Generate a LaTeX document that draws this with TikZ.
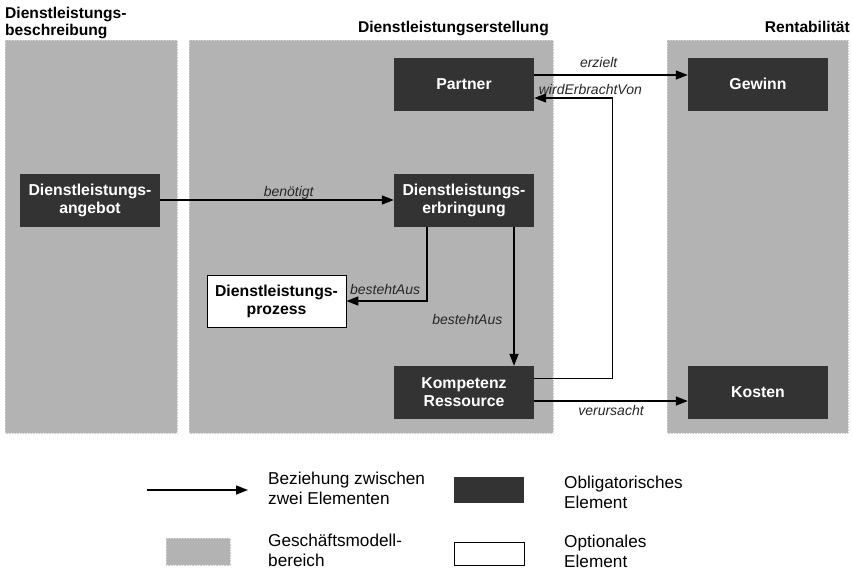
\documentclass[tikz,border=0pt]{standalone}
\usepackage{fontspec}
\setmainfont{Liberation Sans}
\usetikzlibrary{arrows.meta}
\definecolor{area}{HTML}{B3B3B3}
\definecolor{areaedge}{HTML}{CFCFCF}
\definecolor{mandatory}{HTML}{333333}
\begin{document}
\begin{tikzpicture}[x=1pt,y=-1pt,
  region/.style={fill=area,draw=areaedge,densely dotted,line width=0.6pt},
  oblig/.style={fill=mandatory,draw=none,text=white,align=center,
    minimum width=140pt,minimum height=53pt,inner sep=0pt,
    font=\fontsize{15.8}{18}\selectfont\bfseries},
  optional/.style={fill=white,draw=black,line width=0.8pt,text=black,align=center,
    minimum width=139pt,minimum height=52pt,inner sep=0pt,
    font=\fontsize{15.8}{18}\selectfont\bfseries},
  rel/.style={line width=1.4pt,-{Triangle[length=12pt,width=9pt]}},
  lbl/.style={font=\fontsize{14}{16}\selectfont\itshape,text=black!85,inner sep=0pt,anchor=base},
  header/.style={font=\fontsize{15.6}{17}\selectfont\bfseries,inner sep=0pt,align=left},
  legtext/.style={font=\fontsize{17.2}{19.5}\selectfont,inner sep=0pt,align=left,anchor=base west}]
\useasboundingbox (0,0) rectangle (853,570);

% business model areas
\path[region] (5,40) rectangle (177,433);
\path[region] (189,40) rectangle (553,433);
\path[region] (667,40) rectangle (848,433);

% area titles (base anchor sits on the last line)
\node[header,anchor=base west] (hbeschr) at (5,35) {Dienstleistungs-\\beschreibung};
\node[header,anchor=base east] (herst) at (549,32) {Dienstleistungserstellung};
\node[header,anchor=base east] (hrent) at (850,32) {Rentabilität};

% elements
\node[oblig] (partner) at (464,84) {Partner};
\node[oblig] (gewinn) at (758,84) {Gewinn};
\node[oblig] (angebot) at (90,200) {Dienstleistungs-\\angebot};
\node[oblig] (erbr) at (464,200) {Dienstleistungs-\\erbringung};
\node[optional] (prozess) at (276.5,301) {Dienstleistungs-\\prozess};
\node[oblig] (komp) at (464,392.5) {Kompetenz\\Ressource};
\node[oblig] (kosten) at (758,392.5) {Kosten};

% relations
\draw[rel] ([yshift=9pt]partner.east) -- node[lbl,pos=0.42,yshift=8pt]{erzielt} ([yshift=9pt]gewinn.west);
\coordinate (wv) at ([xshift=78pt,yshift=-14pt]partner.east);
\draw[rel] ([yshift=14pt]komp.east) -| (wv) -- node[lbl,pos=0.28,yshift=4pt]{wirdErbrachtVon} ([yshift=-14pt]partner.east);
\draw[rel] (angebot) -- node[lbl,pos=0.55,yshift=4pt]{benötigt} (erbr);
\draw[rel] ([xshift=-37pt]erbr.south) |- node[lbl,pos=0.76,yshift=7pt]{bestehtAus} (prozess.east);
\draw[rel] ([xshift=50pt]erbr.south) -- node[lbl,anchor=base east,pos=0.7,xshift=-11pt]{bestehtAus} ([xshift=50pt]komp.north);
\draw[rel] ([yshift=-8.5pt]komp.east) -- node[lbl,pos=0.5,yshift=-14pt]{verursacht} ([yshift=-8.5pt]kosten.west);

% legend
\coordinate (la) at (147,490);
\coordinate (lb) at (248,490);
\draw[rel] (la) -- (lb);
\node[legtext] (tbez) at (268,504) {Beziehung zwischen\\zwei Elementen};
\node[fill=mandatory,minimum width=70pt,minimum height=26pt,inner sep=0pt] (lobl) at (489,490) {};
\node[legtext] (tobl) at (564,508) {Obligatorisches\\Element};
\node[region,minimum width=64pt,minimum height=27pt,inner sep=0pt] (lreg) at (198,551.5) {};
\node[legtext] (treg) at (268,566) {Geschäftsmodell-\\bereich};
\node[fill=white,draw=black,line width=0.7pt,minimum width=70pt,minimum height=23pt,inner sep=0pt] (lopt) at (489,553.5) {};
\node[legtext] (topt) at (564,567) {Optionales\\Element};
\end{tikzpicture}
\end{document}
